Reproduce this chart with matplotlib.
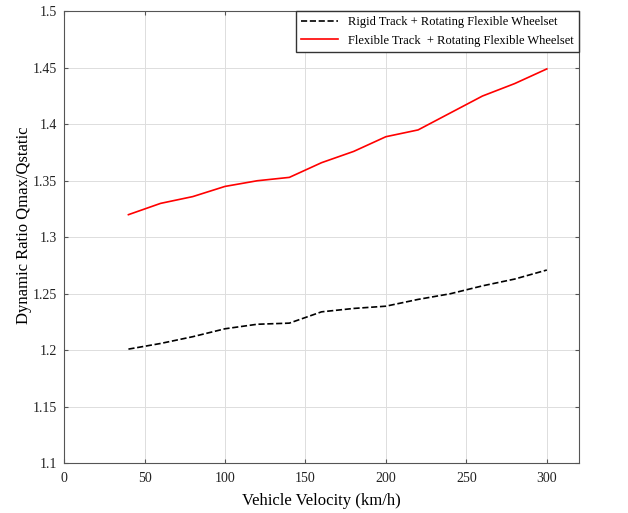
import matplotlib.pyplot as plt
from matplotlib.ticker import FormatStrFormatter

plt.rcParams['font.family'] = ['Liberation Serif', 'DejaVu Serif']

velocity = [40, 60, 80, 100, 120, 140, 160, 180, 200, 220, 240, 260, 280, 300]
rigid_track = [1.201, 1.206, 1.212, 1.219, 1.223, 1.224, 1.234, 1.237, 1.239,
               1.245, 1.250, 1.257, 1.263, 1.271]
flexible_track = [1.320, 1.330, 1.336, 1.345, 1.350, 1.353, 1.366, 1.376, 1.389,
                  1.395, 1.410, 1.425, 1.436, 1.449]

fig, ax = plt.subplots(figsize=(6.28, 5.13), dpi=100)
fig.subplots_adjust(left=0.102, right=0.922, top=0.978, bottom=0.097)

ax.plot(velocity, rigid_track, 'k--', linewidth=1.2,
        label='Rigid Track + Rotating Flexible Wheelset')
ax.plot(velocity, flexible_track, color='red', linewidth=1.2,
        label='Flexible Track  + Rotating Flexible Wheelset')

ax.set_xlim(0, 320)
ax.set_ylim(1.1, 1.5)
ax.set_xticks([0, 50, 100, 150, 200, 250, 300])
ax.set_yticks([1.1, 1.15, 1.2, 1.25, 1.3, 1.35, 1.4, 1.45, 1.5])
ax.yaxis.set_major_formatter(FormatStrFormatter('%g'))
ax.tick_params(direction='in', top=True, right=True, labelsize=10, length=3,
               color='#555555', labelcolor='#222222')
ax.tick_params(axis='x', pad=6)
ax.tick_params(axis='y', pad=5)
ax.grid(True, color='#dddddd', linewidth=0.7)
for s in ax.spines.values():
    s.set_color('#555555')

ax.set_xlabel('Vehicle Velocity (km/h)', fontsize=12, labelpad=6)
ax.set_ylabel('Dynamic Ratio Qmax/Qstatic', fontsize=12)
ax.yaxis.set_label_coords(-0.062, 0.527)

leg = ax.legend(loc='upper right', fontsize=9, fancybox=False, framealpha=1,
                borderaxespad=0, handlelength=3)
leg.get_frame().set_edgecolor('#333333')

plt.savefig('out.png')
